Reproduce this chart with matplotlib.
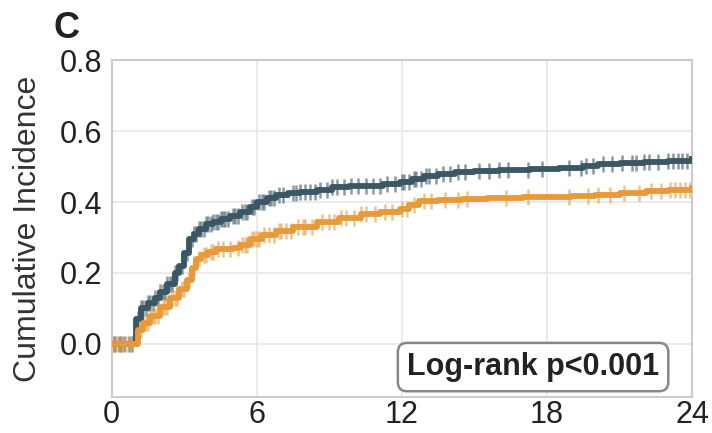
import numpy as np
import matplotlib.pyplot as plt

# step points of the cumulative incidence curves (months, value)
t_dark = [0, 0.9, 1.0, 1.2, 1.5, 1.8, 2.0, 2.3, 2.6, 2.8, 3.0, 3.2, 3.4, 3.6, 3.9, 4.2,
          4.5, 4.9, 5.3, 5.7, 6.0, 6.4, 6.8, 7.3, 7.8, 8.5, 9.1, 9.8, 10.5, 11.2, 11.9,
          12.4, 12.9, 13.5, 14.2, 15.0, 16.0, 17.3, 18.5, 19.5, 20.1, 21.0, 22.0, 23.0, 24.0]
v_dark = [0, 0.0, 0.07, 0.10, 0.115, 0.13, 0.145, 0.17, 0.20, 0.22, 0.255, 0.295, 0.31,
          0.325, 0.338, 0.345, 0.352, 0.362, 0.372, 0.385, 0.40, 0.41, 0.42, 0.425, 0.428,
          0.435, 0.442, 0.444, 0.445, 0.45, 0.456, 0.465, 0.473, 0.478, 0.484, 0.487, 0.49,
          0.493, 0.497, 0.503, 0.507, 0.51, 0.513, 0.517, 0.521]

t_orange = [0, 1.0, 1.1, 1.3, 1.6, 2.0, 2.4, 2.8, 3.1, 3.3, 3.5, 3.7, 4.0, 4.3, 5.0, 5.3,
            5.7, 6.2, 6.8, 7.5, 8.5, 9.4, 10.3, 11.1, 11.9, 12.3, 12.7, 13.5, 14.5, 15.5,
            17.0, 18.0, 19.0, 20.0, 21.0, 22.1, 23.0, 24.0]
v_orange = [0, 0.0, 0.04, 0.06, 0.08, 0.105, 0.13, 0.155, 0.18, 0.215, 0.24, 0.25, 0.258,
            0.267, 0.27, 0.28, 0.296, 0.306, 0.318, 0.33, 0.343, 0.355, 0.366, 0.372, 0.38,
            0.393, 0.403, 0.405, 0.408, 0.41, 0.414, 0.415, 0.417, 0.42, 0.425, 0.431, 0.435, 0.44]

# censoring times
c_dark = [0.05, 0.15, 0.3, 0.4, 0.5, 0.7, 0.85, 1.1, 1.2, 1.3, 1.4, 1.5, 1.6, 1.7, 1.8,
          1.9, 2.0, 2.1, 2.2, 2.3, 2.4, 2.5, 2.6, 2.7, 2.9, 3.1, 3.3, 3.4, 3.5, 3.6, 3.7,
          3.8, 3.9, 4.0, 4.1, 4.2, 4.3, 4.4, 4.5, 4.6, 4.7, 4.8, 5.0, 5.1, 5.2, 5.4, 5.5,
          5.6, 5.8, 5.9, 6.1, 6.2, 6.3, 6.5, 6.6, 6.7, 6.9, 7.1, 7.5, 7.6, 7.8, 8.0, 8.2,
          8.4, 8.6, 8.9, 9.1, 9.3, 9.6, 9.9, 10.2, 10.5, 10.8, 11.1, 11.4, 11.7, 12.0,
          12.1, 12.3, 12.5, 12.6, 12.8, 13.0, 13.1, 13.4, 13.7, 14.0, 14.3, 14.6, 15.2,
          15.6, 16.0, 16.4, 17.2, 17.8, 18.9, 19.4, 19.6, 19.9, 20.3, 20.7, 21.1, 21.5,
          21.7, 22.0, 22.2, 22.6, 23.0, 23.2, 23.4, 23.6, 23.8]
c_orange = [0.1, 0.2, 0.4, 0.6, 0.8, 1.2, 1.3, 1.4, 1.5, 1.6, 1.7, 1.8, 1.9, 2.1, 2.2,
            2.3, 2.5, 2.6, 2.7, 2.9, 3.0, 3.2, 3.4, 3.6, 3.8, 3.9, 4.1, 4.2, 4.4, 4.6,
            4.9, 5.2, 5.4, 5.5, 5.6, 5.8, 5.9, 6.0, 6.1, 6.3, 6.5, 6.7, 6.9, 7.0, 7.2,
            7.4, 7.7, 7.9, 8.0, 8.3, 8.7, 9.0, 9.2, 9.5, 9.7, 10.0, 10.3, 10.5, 10.9,
            11.3, 11.6, 12.0, 12.2, 12.5, 12.9, 13.2, 13.8, 14.3, 14.7, 16.3, 17.2, 18.9,
            19.7, 20.1, 20.6, 21.2, 21.8, 22.3, 22.7, 23.1, 23.3, 23.5, 23.7, 23.9]

dark = "#3b5664"
orange = "#e89a3a"

plt.rcParams['font.family'] = ['Liberation Sans', 'DejaVu Sans']
fig = plt.figure(figsize=(7.12, 4.33), dpi=100)
ax = fig.add_axes([0.157, 0.083, 0.815, 0.778])

for t, v, c, col in [(t_dark, v_dark, c_dark, dark), (t_orange, v_orange, c_orange, orange)]:
    t = np.array(t)
    v = np.array(v)
    ax.step(t, v, where="post", color=col, lw=4.2, zorder=3)
    idx = np.searchsorted(t, c, side="right") - 1
    ax.plot(c, v[idx], ls="none", marker="|", ms=11, mew=1.8, color=col, alpha=0.6, zorder=2)

ax.set_xlim(0, 24)
ax.set_ylim(-0.15, 0.8)
ax.set_xticks([0, 6, 12, 18, 24])
ax.set_yticks([0.0, 0.2, 0.4, 0.6, 0.8])
ax.set_yticklabels(["0.0", "0.2", "0.4", "0.6", "0.8"])
ax.tick_params(labelsize=22, length=0, labelcolor="#222222")
ax.tick_params(axis="y", pad=7)
ax.tick_params(axis="x", pad=2)
ax.grid(color="#e8e8e8", lw=1.2)
ax.set_axisbelow(True)
for s in ax.spines.values():
    s.set_color("#cccccc")
    s.set_linewidth(1.5)
ax.set_ylabel("Cumulative Incidence", fontsize=23, color="#333333", labelpad=12)

ax.text(0.726, 0.089, "Log-rank p<0.001", transform=ax.transAxes, ha="center", va="center",
        fontsize=22, fontweight="bold", color="#222222",
        bbox=dict(boxstyle="round,pad=0.3", fc="white", ec="#888888", lw=1.8))
fig.text(0.075, 0.935, "C", fontsize=26, fontweight="bold", color="#222222", va="center")

fig.savefig("out.png", dpi=100)
